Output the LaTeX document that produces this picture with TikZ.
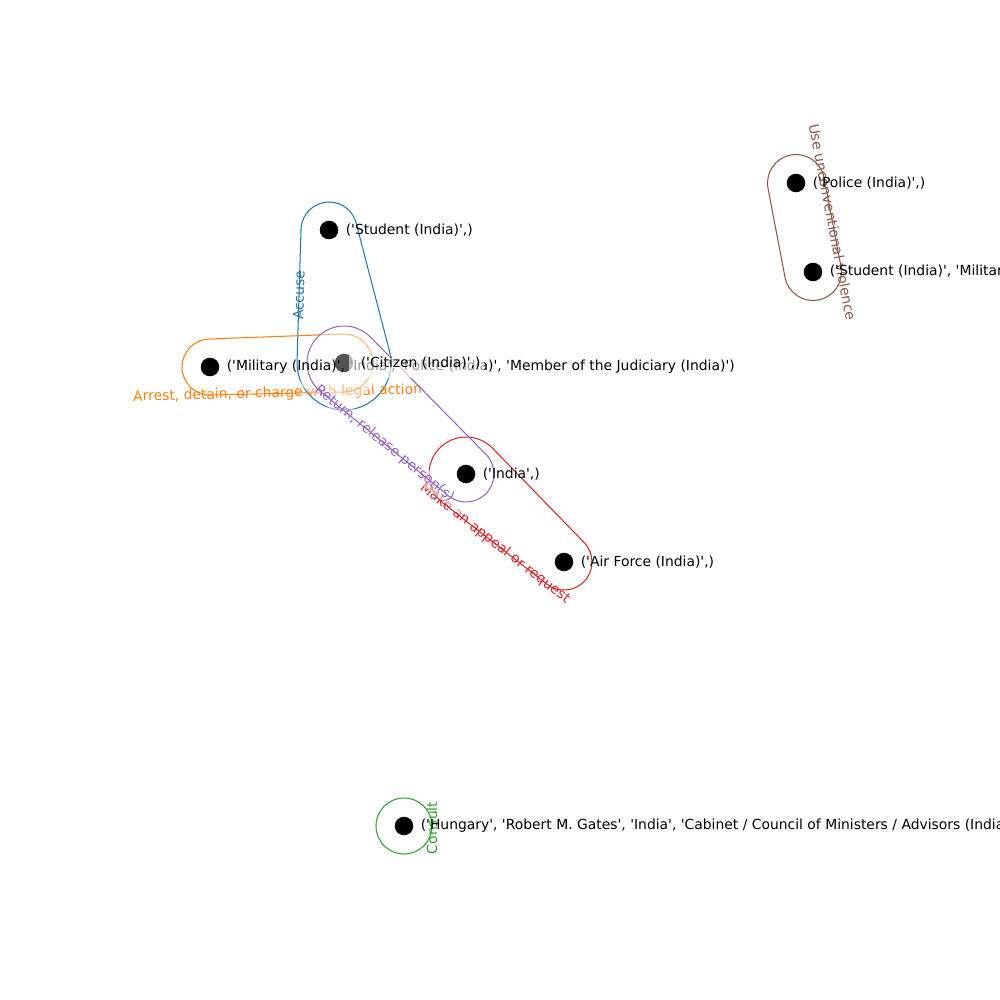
\documentclass[tikz,border=0pt]{standalone}
\font\labfont="DejaVu Sans" at 10.04pt
\definecolor{tabblue}{HTML}{1F77B4}
\definecolor{taborange}{HTML}{FF7F0E}
\definecolor{tabgreen}{HTML}{2CA02C}
\definecolor{tabred}{HTML}{D62728}
\definecolor{tabpurple}{HTML}{9467BD}
\definecolor{tabbrown}{HTML}{8C564B}
\tikzset{
  hull/.style={line width=0.75pt},
  elabel/.style={font=\labfont, inner sep=0pt},
  veil/.style={fill=white, opacity=0.45},
  vert/.style={circle, fill=black, minimum size=13.4pt, inner sep=0pt, draw=none},
  vlabel/.style={anchor=west, inner sep=0pt, font=\labfont, text=black},
}
\newcommand\hullshape[7]{%
  \pgfmathsetmacro\hth{atan2((#6)-(#3),(#5)-(#2))}%
  \pgfmathsetmacro\hd{veclen((#5)-(#2),(#6)-(#3))}%
  \pgfmathsetmacro\hal{acos(((#4)-(#7))/\hd)}%
  \pgfmathsetmacro\ha{\hth-\hal}%
  \pgfmathsetmacro\hb{\hth+\hal}%
  \draw[hull,draw=#1] ({#2+#4*cos(\ha)},{#3+#4*sin(\ha)}) -- ({#5+#7*cos(\ha)},{#6+#7*sin(\ha)})
    arc[start angle=\ha, end angle=\hb, radius=#7]
    -- ({#2+#4*cos(\hb)},{#3+#4*sin(\hb)})
    arc[start angle=\hb, end angle=\ha+360, radius=#4] -- cycle;
}
\begin{document}
\begin{tikzpicture}[x=0.7227pt,y=0.7227pt]
\begin{scope}[yscale=-1]
\useasboundingbox (0,0) rectangle (1000,1000);
% hyperedges in drawing order
\hullshape{tabblue}{329}{230}{28}{344}{363}{47}
\node[elabel,text=tabblue,rotate=88.3] (eaccuse) at (299,295.3) {Accuse};
\hullshape{taborange}{210}{367}{28}{344}{363}{29}
\node[elabel,text=taborange,rotate=1.5] (earrest) at (277.6,393.5) {Arrest, detain, or charge with legal action};
\draw[hull,draw=tabgreen] (404,826) circle[radius=28];
\node[elabel,text=tabgreen,rotate=90] (econsult) at (432,828) {Consult};
\hullshape{tabred}{466}{474}{37}{564}{562}{28}
\node[elabel,text=tabred,rotate=-38] (emake) at (495,543.6) {Make an appeal or request};
\fill[veil] (344,363) circle[radius=37];
\node[veil,rotate=-39.2,minimum width=150pt,minimum height=11pt,inner sep=0pt] (ereturnbg) at (384.5,443.7) {};
\hullshape{tabpurple}{344}{363}{37}{466}{474}{28}
\node[elabel,text=tabpurple,rotate=-39.2] (ereturn) at (384.5,443.7) {Return, release person(s)};
\hullshape{tabbrown}{796}{183}{28.5}{813}{272}{28.5}
\node[elabel,text=tabbrown,rotate=-79.2] (euse) at (832.5,222.2) {Use unconventional violence};
% vertices
\node[vert] (student) at (329,230) {};
\node[vert] (military) at (210,367) {};
\node[vert,fill=black!67] (citizen) at (344,363) {};
\node[vert] (india) at (466,474) {};
\node[vert] (airforce) at (564,562) {};
\node[vert] (police) at (796,183) {};
\node[vert] (studmil) at (813,272) {};
\node[vert] (hungary) at (404,826) {};
% vertex labels
\node[vlabel] (lstudent) at (345.5,230) {('Student (India)',)};
\node[vlabel] (lmilitary) at (226.5,367) {('Military (India)', 'India', 'Police (India)', 'Member of the Judiciary (India)')};
\fill[white,opacity=0.6] (349,356) rectangle (484,378);
\node[vlabel] (lcitizen) at (360.5,363) {('Citizen (India)',)};
\node[vlabel] (lindia) at (482.5,474) {('India',)};
\node[vlabel] (lairforce) at (580.5,562) {('Air Force (India)',)};
\node[vlabel] (lpolice) at (812.5,183) {('Police (India)',)};
\node[vlabel] (lstudmil) at (829.5,272) {('Student (India)', 'Military (India)')};
\node[vlabel] (lhungary) at (420.5,826) {('Hungary', 'Robert M. Gates', 'India', 'Cabinet / Council of Ministers / Advisors (India)')};
\end{scope}
\end{tikzpicture}
\end{document}
